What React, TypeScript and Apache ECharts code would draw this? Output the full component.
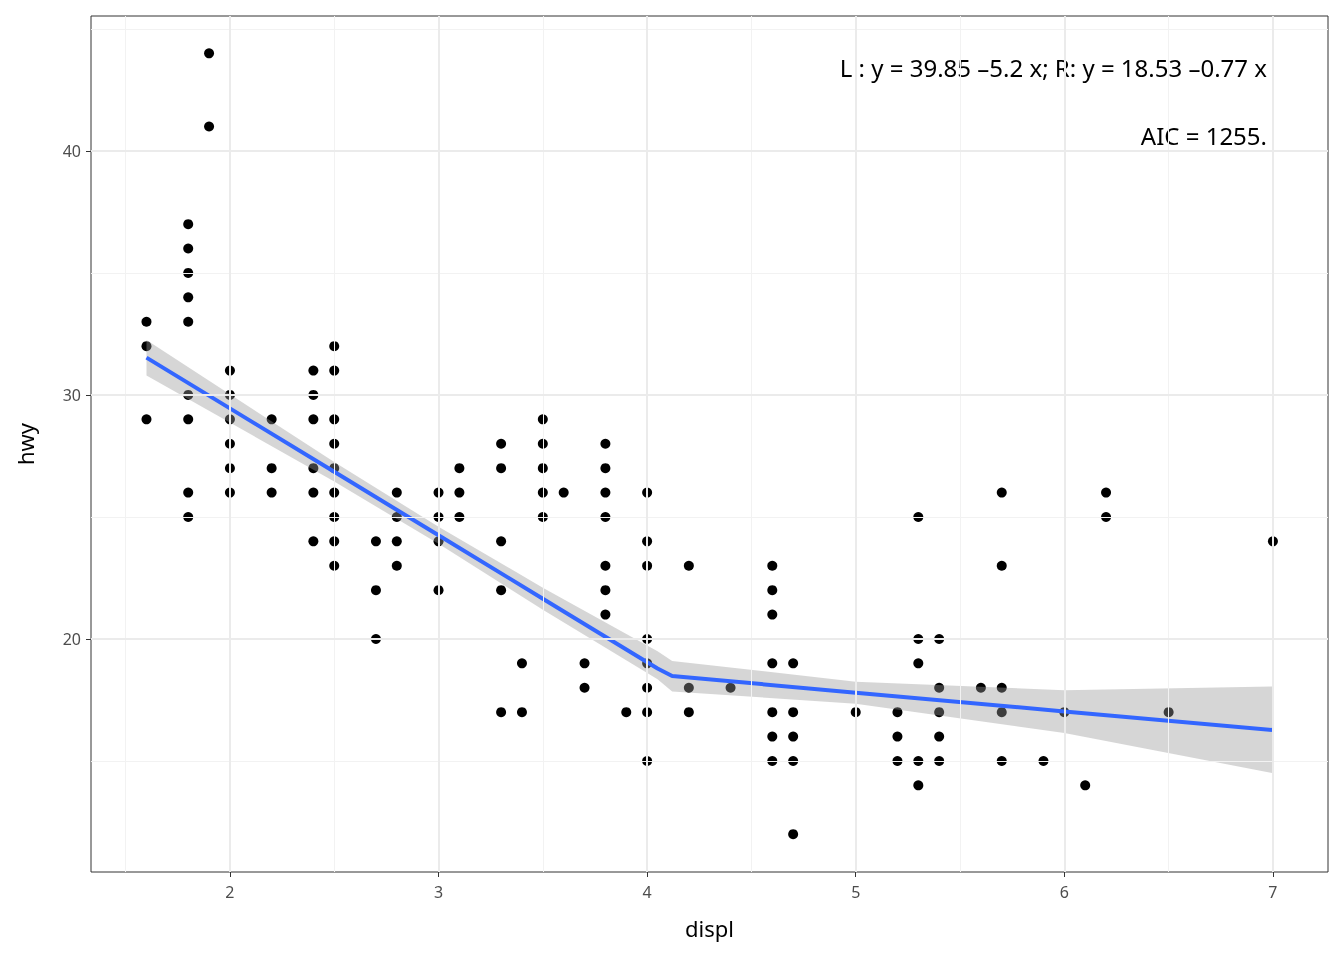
import { useEffect, useRef } from "react";
import * as echarts from "echarts";

// mpg: displ vs hwy (distinct points)
const pointGroups: [number, number[]][] = [
  [1.6, [33, 32, 29]],
  [1.8, [37, 36, 35, 34, 33, 30, 29, 26, 25]],
  [1.9, [44, 41]],
  [2.0, [31, 30, 29, 28, 27, 26]],
  [2.2, [29, 27, 26]],
  [2.4, [31, 30, 29, 27, 26, 24]],
  [2.5, [32, 31, 29, 28, 27, 26, 25, 24, 23]],
  [2.7, [24, 22, 20]],
  [2.8, [26, 25, 24, 23]],
  [3.0, [26, 25, 24, 22]],
  [3.1, [27, 26, 25]],
  [3.3, [28, 27, 24, 22, 17]],
  [3.4, [19, 17]],
  [3.5, [29, 28, 27, 26, 25]],
  [3.6, [26]],
  [3.7, [19, 18]],
  [3.8, [28, 27, 26, 25, 23, 22, 21]],
  [3.9, [17]],
  [4.0, [26, 24, 23, 20, 19, 18, 17, 15]],
  [4.2, [23, 18, 17]],
  [4.4, [18]],
  [4.6, [23, 22, 21, 19, 17, 16, 15]],
  [4.7, [19, 17, 16, 15, 12]],
  [5.0, [17]],
  [5.2, [17, 16, 15]],
  [5.3, [25, 20, 19, 15, 14]],
  [5.4, [20, 18, 17, 16, 15]],
  [5.6, [18]],
  [5.7, [26, 23, 18, 17, 15]],
  [5.9, [15]],
  [6.0, [17]],
  [6.1, [14]],
  [6.2, [26, 25]],
  [6.5, [17]],
  [7.0, [24]],
];

// segmented fit and its confidence band
const fitX = [1.6, 2.5, 3.0, 3.5, 4.05, 4.12, 5.0, 6.0, 7.0];
const fitY = [31.53, 26.85, 24.25, 21.65, 18.79, 18.48, 17.8, 17.03, 16.27];
const fitLo = [30.8, 26.45, 23.9, 21.2, 18.35, 17.85, 17.35, 16.15, 14.5];
const fitHi = [32.25, 27.25, 24.6, 22.1, 19.5, 19.1, 18.25, 17.9, 18.05];

const xTicks = [2, 3, 4, 5, 6, 7];
const xMinor = [1.5, 2.5, 3.5, 4.5, 5.5, 6.5];
const yTicks = [20, 30, 40];
const yMinor = [15, 25, 35, 45];

export default function App() {
  const ref = useRef<HTMLDivElement>(null);

  useEffect(() => {
    if (!ref.current) return;
    const chart = echarts.init(ref.current, null, { renderer: "svg" });
    const points = pointGroups.flatMap(([x, ys]) => ys.map((y) => [x, y]));
    const band = fitX.map((x, i) => [x, fitLo[i], fitHi[i]]);
    const gridLine = (axis: "xAxis" | "yAxis", vals: number[], color: string, width: number) =>
      vals.map((v) => ({ [axis]: v, lineStyle: { color, width, type: "solid" } }));

    chart.setOption({
      animation: false,
      textStyle: { fontFamily: "Noto Sans" },
      grid: {
        left: 91, top: 16, width: 1237, height: 856,
        show: true, borderColor: "#333", borderWidth: 1, backgroundColor: "#fff",
      },
      xAxis: {
        type: "value", min: 1.334, max: 7.264,
        name: "displ", nameLocation: "middle", nameGap: 45,
        nameTextStyle: { fontSize: 22, color: "#000" },
        splitLine: { show: false },
        axisLine: { show: false },
        axisTick: { show: true, length: 5, lineStyle: { color: "#333" }, customValues: xTicks },
        axisLabel: { fontSize: 16, color: "#4d4d4d", margin: 12, customValues: xTicks },
      },
      yAxis: {
        type: "value", min: 10.45, max: 45.53,
        name: "hwy", nameLocation: "middle", nameGap: 55,
        nameTextStyle: { fontSize: 22, color: "#000" },
        splitLine: { show: false },
        axisLine: { show: false },
        axisTick: { show: true, length: 5, lineStyle: { color: "#333" }, customValues: yTicks },
        axisLabel: { fontSize: 16, color: "#4d4d4d", margin: 10, customValues: yTicks },
      },
      series: [
        {
          type: "line", data: [], silent: true,
          markLine: {
            silent: true, symbol: "none", label: { show: false },
            data: [
              ...gridLine("xAxis", xMinor, "#f2f2f2", 1),
              ...gridLine("yAxis", yMinor, "#f2f2f2", 1),
              ...gridLine("xAxis", xTicks, "#ebebeb", 2),
              ...gridLine("yAxis", yTicks, "#ebebeb", 2),
            ],
          },
        },
        {
          type: "custom", silent: true, data: band, z: 3,
          renderItem: (params: any, api: any) => {
            if (params.dataIndex !== 0) return null;
            const up = band.map((d) => api.coord([d[0], d[2]]));
            const lo = band.map((d) => api.coord([d[0], d[1]])).reverse();
            return { type: "polygon", shape: { points: [...up, ...lo] }, style: { fill: "rgba(153,153,153,0.4)" } };
          },
        },
        {
          type: "scatter", data: points, symbolSize: 10, z: 2,
          itemStyle: { color: "#000", opacity: 1 },
        },
        {
          type: "line", data: fitX.map((x, i) => [x, fitY[i]]), showSymbol: false, z: 4,
          lineStyle: { color: "#3366ff", width: 4 },
        },
      ],
      graphic: [
        { type: "text", right: 77, top: 55, style: { text: "L : y = 39.85 \u20135.2 x; R: y = 18.53 \u20130.77 x", fontSize: 24, fill: "#000", fontFamily: "Noto Sans" } },
        { type: "text", right: 77, top: 123, style: { text: "AIC = 1255.", fontSize: 24, fill: "#000", fontFamily: "Noto Sans" } },
      ],
    });
    return () => chart.dispose();
  }, []);

  return <div ref={ref} style={{ position: "fixed", left: 0, top: 0, width: 1344, height: 960 }} />;
}
